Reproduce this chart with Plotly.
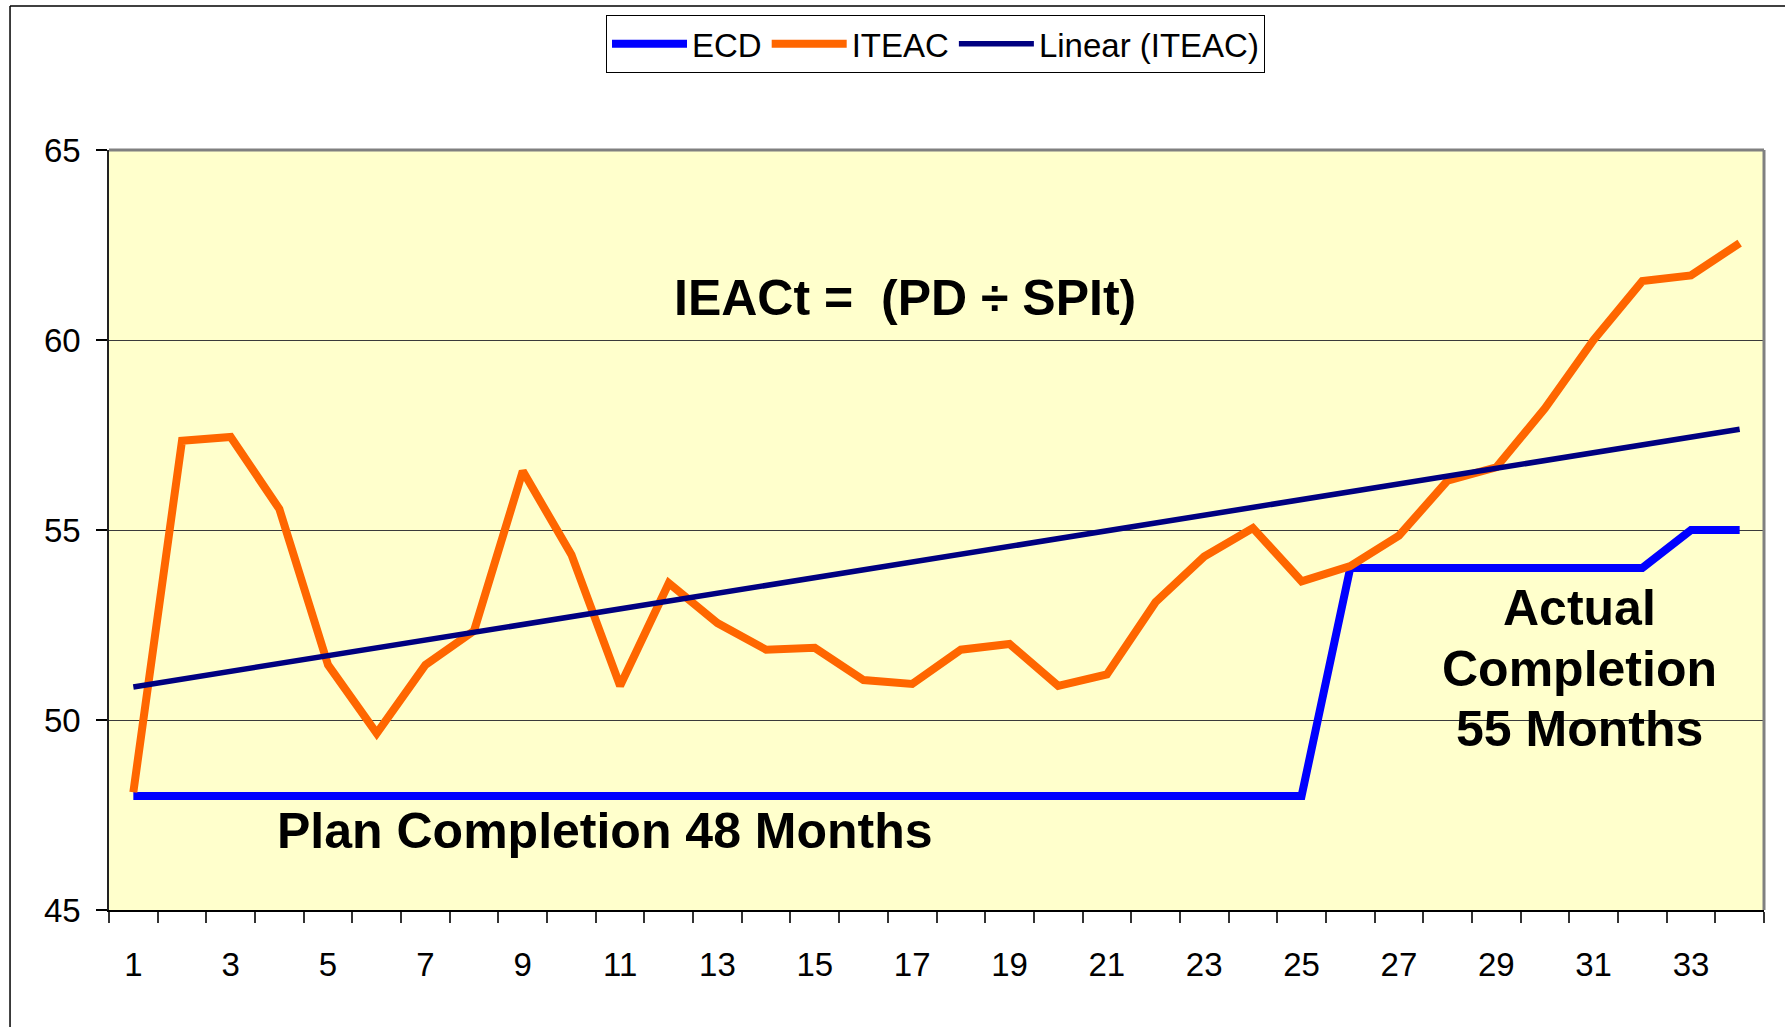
import plotly.graph_objects as go

# ---------------- data ----------------
months = [1, 2, 3, 4, 5, 6, 7, 8, 9, 10, 11, 12, 13, 14, 15, 16, 17,
          18, 19, 20, 21, 22, 23, 24, 25, 26, 27, 28, 29, 30, 31, 32, 33, 34]

ecd = [48, 48, 48, 48, 48, 48, 48, 48, 48, 48, 48, 48, 48, 48, 48, 48, 48,
       48, 48, 48, 48, 48, 48, 48, 48, 54, 54, 54, 54, 54, 54, 54, 55, 55]

iteac = [48.1, 57.35, 57.45, 55.55, 51.45, 49.65, 51.45, 52.35, 56.55, 54.35,
         50.9, 53.6, 52.55, 51.85, 51.9, 51.05, 50.95, 51.85, 52.0, 50.9,
         51.2, 53.1, 54.3, 55.05, 53.65, 54.05, 54.85, 56.3, 56.65, 58.2,
         60.0, 61.55, 61.7, 62.55]

trend_x = [1, 34]
trend_y = [50.87, 57.65]

x_tick_vals = [1, 3, 5, 7, 9, 11, 13, 15, 17, 19, 21, 23, 25, 27, 29, 31, 33]
x_tick_text = ["1", "3", "5", "7", "9", "11", "13", "15", "17", "19", "21",
               "23", "25", "27", "29", "31", "33"]
x_boundaries = [0.5, 1.5, 2.5, 3.5, 4.5, 5.5, 6.5, 7.5, 8.5, 9.5, 10.5, 11.5,
                12.5, 13.5, 14.5, 15.5, 16.5, 17.5, 18.5, 19.5, 20.5, 21.5,
                22.5, 23.5, 24.5, 25.5, 26.5, 27.5, 28.5, 29.5, 30.5, 31.5,
                32.5, 33.5, 34.5]
y_tick_vals = [45, 50, 55, 60, 65]

FONT = "Arial, Liberation Sans, Helvetica, sans-serif"

fig = go.Figure()
fig.add_trace(go.Scatter(x=months, y=ecd, name="ECD", mode="lines",
                         line=dict(color="#0000FF", width=8)))
fig.add_trace(go.Scatter(x=months, y=iteac, name="ITEAC", mode="lines",
                         line=dict(color="#FF6600", width=8)))
fig.add_trace(go.Scatter(x=trend_x, y=trend_y, name="Linear (ITEAC)", mode="lines",
                         line=dict(color="#000080", width=5.5)))

# text annotations
fig.add_annotation(x=16.85, y=61.1, text="IEACt =\u00a0\u00a0(PD ÷ SPIt)",
                   showarrow=False, xanchor="center", yanchor="middle",
                   font=dict(family=FONT, size=50, color="black", weight="bold"))
fig.add_annotation(x=10.69, y=47.07, text="Plan Completion 48 Months",
                   showarrow=False, xanchor="center", yanchor="middle",
                   font=dict(family=FONT, size=50, color="black", weight="bold"))
for txt, yv in [("Actual", 52.95), ("Completion", 51.34), ("55 Months", 49.76)]:
    fig.add_annotation(x=30.7, y=yv, text=txt, showarrow=False,
                       xanchor="center", yanchor="middle",
                       font=dict(family=FONT, size=50, color="black", weight="bold"))

# plot-area gray frame (top/right) and outer chart border (left/top)
fig.add_shape(type="line", xref="paper", yref="paper", x0=0, x1=1, y0=1, y1=1,
              line=dict(color="#808080", width=3))
fig.add_shape(type="line", xref="paper", yref="paper", x0=1, x1=1, y0=0, y1=1,
              line=dict(color="#808080", width=3))
fig.add_shape(type="line", xref="paper", yref="paper", x0=-0.0598, x1=-0.0598,
              y0=-0.16, y1=1.1895, line=dict(color="black", width=1.5))
fig.add_shape(type="line", xref="paper", yref="paper", x0=-0.0598, x1=1.02,
              y0=1.1895, y1=1.1895, line=dict(color="black", width=1.5))

fig.update_layout(
    width=1785, height=1027,
    margin=dict(l=109, r=21, t=150, b=117),
    paper_bgcolor="white",
    plot_bgcolor="#FFFFCC",
    font=dict(family=FONT, size=33, color="black"),
    showlegend=True,
    legend=dict(orientation="h", x=0.4994, xanchor="center", y=1.178, yanchor="top",
                bgcolor="white", bordercolor="black", borderwidth=1,
                font=dict(family=FONT, size=33, color="black"),
                itemwidth=75, tracegroupgap=0),
    xaxis=dict(range=[0.5, 34.5], tickmode="array", tickvals=x_tick_vals,
               ticktext=x_tick_text, ticks="outside", ticklen=11,
               tickcolor="rgba(0,0,0,0)", ticklabelstandoff=13,
               showgrid=False, zeroline=False,
               showline=True, linecolor="black", linewidth=2,
               tickfont=dict(family=FONT, size=33, color="black"),
               minor=dict(tickmode="array", tickvals=x_boundaries, ticks="outside",
                          ticklen=11, tickcolor="#333333", tickwidth=1.5,
                          showgrid=False)),
    yaxis=dict(range=[45, 65], tickmode="array", tickvals=y_tick_vals,
               ticks="outside", ticklen=11, tickcolor="black", tickwidth=1.5,
               ticklabelstandoff=9,
               showgrid=True, gridcolor="#3a3a3a", gridwidth=1.3,
               zeroline=False, showline=True, linecolor="#222222", linewidth=1.5,
               tickfont=dict(family=FONT, size=33, color="black")),
)

fig.write_html("out.html",
               config={"displayModeBar": False},
               post_script="document.body.style.margin='0px';"
                           "document.body.style.overflow='hidden';")
